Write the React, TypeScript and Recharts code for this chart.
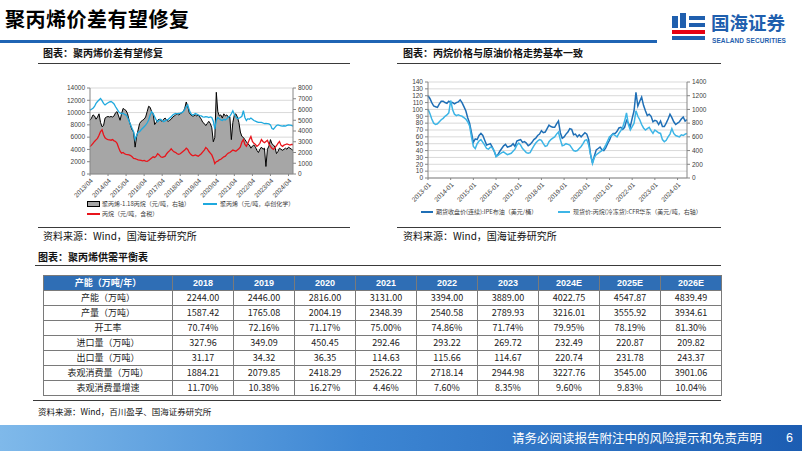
import React from 'react';
import { ComposedChart, Line, Area, XAxis, YAxis, CartesianGrid } from 'recharts';

const CJK = '"Noto Sans CJK SC", "Noto Sans", sans-serif';
const LATIN = '"Liberation Sans", Arial, sans-serif';

// 月份标签
const monthLabels = (y0: number, m0: number, n: number, sep: string) =>
  Array.from({ length: n }, (_, i) => {
    const t = m0 - 1 + i;
    return `${y0 + Math.floor(t / 12)}${sep}${String((t % 12) + 1).padStart(2, '0')}`;
  });

// 图1：2013/04 - 2024/07
const months1 = monthLabels(2013, 4, 136, '/');
// 聚丙烯（元/吨，卓创化学）左轴
const ppPrice = [
  10400, 10550, 10700, 11000, 11500, 11800, 12050, 12300, 11950,
  11500, 11250, 11450, 11600, 11750, 11800, 11650, 11400, 10950, 10550, 10150, 9950,
  9800, 9900, 9700, 9600, 9200, 8600, 8000, 7400, 6900, 5600, 6300, 6800,
  6900, 7200, 7450, 7700, 7950, 8300, 8800, 9600, 10150, 9850, 9300, 8800,
  8500, 8750, 8900, 8700, 8500, 8650, 8800, 8900, 9100, 9300, 9600, 9750,
  9850, 9800, 9850, 9900, 10000, 10150, 10500, 10950, 11250, 10400, 9850, 9600,
  9650, 9850, 9750, 9600, 9500, 9450, 9300, 9250, 9350, 9300, 9200, 9300,
  9200, 8600, 7300, 8700, 9200, 9000, 8800, 8700, 8900, 8800, 9000, 9300,
  9400, 9800, 10300, 9700, 9300, 9000, 9100, 9200, 9400, 10300, 9200, 8700,
  9000, 8900, 9100, 8900, 8700, 8600, 8500, 8400, 8400, 8400, 8300, 8200,
  8250, 8200, 8150, 8000, 7400, 7300, 7600, 7900, 8000, 7900, 7850, 7800,
  7850, 7800, 7900, 8000, 7950, 7900, 7800,
];
// 丙烷（元/吨，含税）左轴
const propanePrice = [
  4450, 4700, 5000, 5300, 5550, 5800, 6300, 6900, 7200,
  6400, 5900, 5700, 5600, 5550, 5500, 5600, 5400, 5300, 5000, 4300, 3700,
  3400, 3500, 3300, 3200, 3150, 3100, 3000, 2800, 2550, 2500, 2400, 2300,
  2250, 2200, 2150, 2200, 2100, 2050, 2200, 2400, 2600, 2800, 2700, 2900,
  3300, 3100, 2800, 2700, 2800, 2900, 3300, 3600, 3800, 4100, 3800, 3600,
  3500, 3300, 3200, 3300, 3500, 3700, 3900, 4200, 4000, 3500, 3200, 3000,
  3000, 3100, 3000, 2900, 3100, 3300, 3600, 3900, 4300, 4100, 3700, 3400,
  3100, 2500, 1700, 2000, 2100, 2300, 2400, 2600, 2800, 2900, 3200, 3400,
  3500, 3700, 3900, 3800, 3700, 3900, 4100, 4400, 5200, 5600, 4800, 4500,
  5000, 5600, 6100, 5300, 5000, 4800, 4500, 4700, 5000, 5600, 5300, 5100,
  5300, 5500, 4900, 4500, 4200, 4000, 4300, 4600, 5000, 5300, 4700, 4500,
  4700, 4800, 4900, 4800, 4700, 4800, 4800,
];
// 聚丙烯-1.18丙烷（元/吨，右轴）
const ppSpread = [
  5000, 5200, 5500, 5400, 5100, 5300, 5600, 4800, 4400,
  4500, 5200, 5300, 5350, 5300, 5350, 5300, 5400, 5700, 5800, 5400, 5000,
  5600, 6100, 6000, 5900, 5600, 5000, 4500, 4100, 3900, 2500, 3500, 4100,
  4700, 4900, 5000, 5100, 5300, 5800, 6300, 6200, 5800, 5600, 4600, 4800,
  5000, 5100, 5000, 4900, 5100, 5200, 5000, 4900, 5000, 5100, 5300, 5400,
  5500, 5600, 5500, 5600, 5700, 5800, 6100, 6700, 6300, 5700, 5500, 5400,
  5400, 5500, 5400, 5500, 5300, 5100, 4800, 4700, 4500, 4700, 4900, 4700,
  4300, 3000, 3400, 7600, 5800, 5400, 5500, 5200, 5600, 5400, 5500, 5300,
  5300, 3200, 4800, 5500, 5600, 5300, 4800, 3900, 3500, 3400, 3200, 3000,
  2800, 2700, 2400, 2600, 2700, 2500, 2200, 2000, 2300, 2500, 2300, 2400,
  700, 2300, 2600, 3200, 2800, 2700, 2500, 1900, 2100, 2400, 2300, 2200,
  2300, 2400, 2300, 2500, 2400, 2300, 2200,
];
const ticksL1 = [0, 2000, 4000, 6000, 8000, 10000, 12000, 14000];
const ticksR1 = [0, 1000, 2000, 3000, 4000, 5000, 6000, 7000, 8000];

// 图2：2013-01 - 2024-06
const months2 = monthLabels(2013, 1, 138, '-');
// IPE布油（美元/桶）
const brent = [
  120, 116, 110, 105, 104, 103, 108, 112, 112, 110, 109, 112,
  110, 110, 108, 110, 111, 114, 110, 104, 98, 88, 80, 66,
  52, 57, 56, 62, 65, 62, 55, 48, 49, 50, 45, 39,
  32, 34, 39, 43, 47, 49, 45, 46, 47, 50, 46, 54,
  55, 56, 52, 53, 51, 47, 49, 52, 56, 58, 62, 64,
  69, 66, 67, 72, 77, 75, 74, 74, 79, 83, 66, 58,
  60, 64, 67, 72, 71, 63, 64, 60, 63, 60, 63, 66,
  64, 56, 34, 22, 32, 41, 43, 45, 41, 40, 44, 50,
  55, 62, 65, 65, 68, 73, 74, 71, 74, 84, 80, 75,
  87, 98, 125, 105, 112, 118, 106, 98, 91, 93, 90, 82,
  84, 83, 78, 83, 75, 75, 80, 86, 93, 88, 82, 78,
  80, 82, 86, 89, 83, 85,
];
// 丙烷(冷冻货):CFR华东（美元/吨，右轴）
const propaneCfr = [
  1000, 940, 860, 800, 780, 790, 820, 850, 870, 900, 920, 950,
  1130, 1000, 930, 910, 920, 910, 900, 880, 860, 820, 760, 600,
  460, 430, 500, 540, 560, 520, 480, 430, 420, 450, 440, 400,
  310, 330, 350, 370, 380, 360, 340, 350, 360, 390, 420, 480,
  510, 480, 430, 400, 370, 360, 370, 420, 470, 510, 540, 560,
  550, 500, 460, 470, 530, 560, 580, 600, 640, 670, 560, 470,
  480, 500, 490, 480, 440, 400, 390, 400, 430, 460, 500, 550,
  560, 480, 340, 210, 300, 340, 360, 380, 400, 430, 480, 540,
  600, 620, 640, 620, 600, 650, 690, 740, 830, 950, 780, 700,
  750, 800, 980, 900, 850, 780, 730, 700, 720, 740, 690, 650,
  700, 680, 660, 650, 560, 530, 550, 600, 640, 720, 650, 620,
  610, 600, 630, 620, 640, 650,
];
const ticksL2 = [0, 10, 20, 30, 40, 50, 60, 70, 80, 90, 100, 110, 120, 130, 140];
const ticksR2 = [0, 200, 400, 600, 800, 1000, 1200, 1400];

// 表：聚丙烯供需平衡表
const tableYears = ['2018', '2019', '2020', '2021', '2022', '2023', '2024E', '2025E', '2026E'];
const rowNames = ['产能（万吨）', '产量（万吨）', '开工率', '进口量（万吨）', '出口量（万吨）', '表观消费量（万吨）', '表观消费量增速'];
const capacity = ['2244.00', '2446.00', '2816.00', '3131.00', '3394.00', '3889.00', '4022.75', '4547.87', '4839.49'];
const output = ['1587.42', '1765.08', '2004.19', '2348.39', '2540.58', '2789.93', '3216.01', '3555.92', '3934.61'];
const utilization = ['70.74%', '72.16%', '71.17%', '75.00%', '74.86%', '71.74%', '79.95%', '78.19%', '81.30%'];
const imports = ['327.96', '349.09', '450.45', '292.46', '293.22', '269.72', '232.49', '220.87', '209.82'];
const exports = ['31.17', '34.32', '36.35', '114.63', '115.66', '114.67', '220.74', '231.78', '243.37'];
const consumption = ['1884.21', '2079.85', '2418.29', '2526.22', '2718.14', '2944.98', '3227.76', '3545.00', '3901.06'];
const growth = ['11.70%', '10.38%', '16.27%', '4.46%', '7.60%', '8.35%', '9.60%', '9.83%', '10.04%'];
const tableValues = [capacity, output, utilization, imports, exports, consumption, growth];

const chart1Data = months1.map((d, i) => ({ date: d, pp: ppPrice[i], propane: propanePrice[i], spread: ppSpread[i] }));
const chart2Data = months2.map((d, i) => ({ date: d, brent: brent[i], propane: propaneCfr[i] }));

const tick = { fontSize: 6.5, fill: '#404040', fontFamily: LATIN };
const axisLine = { stroke: '#868686' };

const abs = (left: number, top: number, extra: React.CSSProperties = {}): React.CSSProperties => ({
  position: 'absolute', left, top, ...extra,
});

function Rule({ left, top, width }: { left: number; top: number; width: number }) {
  return <div style={abs(left, top, { width, height: 0, borderTop: '1.5px solid #3a3a3a' })} />;
}

function Logo() {
  return (
    <div style={abs(672, 13)}>
      <svg width="34" height="28">
        <rect x="0" y="3" width="6" height="12" fill="#1F5FAE" />
        <rect x="8" y="0" width="6" height="15" fill="#1F5FAE" />
        <rect x="17" y="3" width="16" height="4" fill="#1F5FAE" />
        <rect x="17" y="10" width="16" height="4" fill="#1F5FAE" />
        <rect x="0" y="17" width="33" height="4" fill="#E60012" />
        <rect x="0" y="23" width="33" height="4" fill="#1F5FAE" />
      </svg>
      <div style={abs(39, -1, { fontFamily: CJK, fontWeight: 700, fontSize: 18.5, color: '#1F5FAE', lineHeight: '20px', whiteSpace: 'nowrap' })}>国海证券</div>
      <div style={abs(40, 24, { fontFamily: LATIN, fontWeight: 700, fontSize: 6.5, color: '#1F5FAE', lineHeight: '7px', whiteSpace: 'nowrap', letterSpacing: 0.1 })}>SEALAND SECURITIES</div>
    </div>
  );
}

export default function App() {
  const small: React.CSSProperties = { fontFamily: CJK, fontSize: 6, color: '#404040', lineHeight: '8px', whiteSpace: 'nowrap' };
  const panelTitle: React.CSSProperties = { fontFamily: CJK, fontSize: 10, fontWeight: 700, color: '#111', lineHeight: '12px', whiteSpace: 'nowrap' };
  const source: React.CSSProperties = { fontFamily: CJK, fontSize: 10, color: '#111', lineHeight: '12px', whiteSpace: 'nowrap' };
  const cell: React.CSSProperties = { border: '1px solid #7a7a7a', padding: 0, height: 14, lineHeight: '14px', textAlign: 'center', fontSize: 9, whiteSpace: 'nowrap' };

  return (
    <div style={{ position: 'absolute', left: 0, top: 0, width: 802, height: 451, background: '#fff', overflow: 'hidden' }}>
      {/* 标题 */}
      <div style={abs(5, 6, { fontFamily: CJK, fontSize: 20, fontWeight: 700, color: '#000', lineHeight: '26px', letterSpacing: 0.5 })}>聚丙烯价差有望修复</div>
      <div style={abs(0, 40, { width: 657, height: 3, background: '#1F64B4' })} />
      <Logo />

      {/* 左图 */}
      <div style={abs(43, 47, panelTitle)}>图表：聚丙烯价差有望修复</div>
      <Rule left={38} top={63} width={312} />
      <div style={abs(40, 80)}>
        <ComposedChart width={283} height={124} data={chart1Data} margin={{ top: 8, right: 0, bottom: 0, left: 0 }}>
          <CartesianGrid yAxisId="l" vertical={false} stroke="#d9d9d9" />
          <XAxis dataKey="date" scale="point" interval={11} angle={-45} textAnchor="end" height={30}
            tick={tick} tickSize={2} tickLine={axisLine} axisLine={axisLine} />
          <YAxis yAxisId="l" domain={[0, 14000]} ticks={ticksL1} interval={0} width={50} tick={tick} tickSize={3} tickLine={axisLine} axisLine={axisLine} />
          <YAxis yAxisId="r" orientation="right" domain={[0, 8000]} ticks={ticksR1} interval={0} width={30} tick={tick} tickSize={3} tickLine={axisLine} axisLine={axisLine} />
          <Area yAxisId="r" type="linear" dataKey="spread" fill="#a6a6a6" fillOpacity={1} stroke="#000" strokeWidth={1} dot={false} isAnimationActive={false} />
          <Line yAxisId="l" type="linear" dataKey="pp" stroke="#1fa9de" strokeWidth={1.3} dot={false} isAnimationActive={false} />
          <Line yAxisId="l" type="linear" dataKey="propane" stroke="#e8141b" strokeWidth={1.3} dot={false} isAnimationActive={false} />
        </ComposedChart>
      </div>
      <div style={abs(87, 201, { width: 11, height: 4, background: '#a6a6a6', border: '1px solid #000' })} />
      <div style={abs(102, 200, small)}>聚丙烯-1.18丙烷（元/吨，右轴）</div>
      <div style={abs(203, 203, { width: 14, height: 1.5, background: '#1fa9de' })} />
      <div style={abs(220, 200, small)}>聚丙烯（元/吨，卓创化学）</div>
      <div style={abs(87, 213, { width: 13, height: 1.5, background: '#e8141b' })} />
      <div style={abs(102, 210, small)}>丙烷（元/吨，含税）</div>
      <Rule left={38} top={227} width={312} />
      <div style={abs(43, 230, source)}>资料来源：Wind，国海证券研究所</div>

      {/* 右图 */}
      <div style={abs(403, 47, panelTitle)}>图表：丙烷价格与原油价格走势基本一致</div>
      <Rule left={397} top={63} width={324} />
      <div style={abs(388, 74)}>
        <ComposedChart width={334} height={134} data={chart2Data} margin={{ top: 8, right: 0, bottom: 0, left: 0 }}>
          <CartesianGrid yAxisId="l" vertical={false} stroke="#d9d9d9" />
          <XAxis dataKey="date" scale="point" interval={11} angle={-45} textAnchor="end" height={30}
            tick={tick} tickSize={2} tickLine={axisLine} axisLine={axisLine} />
          <YAxis yAxisId="l" domain={[0, 140]} ticks={ticksL2} interval={0} width={40} tick={tick} tickSize={3} tickLine={axisLine} axisLine={axisLine} />
          <YAxis yAxisId="r" orientation="right" domain={[0, 1400]} ticks={ticksR2} interval={0} width={35} tick={tick} tickSize={3} tickLine={axisLine} axisLine={axisLine} />
          <Line yAxisId="l" type="linear" dataKey="brent" stroke="#1f6fb6" strokeWidth={1.5} dot={false} isAnimationActive={false} />
          <Line yAxisId="r" type="linear" dataKey="propane" stroke="#3db5e6" strokeWidth={1.5} dot={false} isAnimationActive={false} />
        </ComposedChart>
      </div>
      <div style={abs(421, 211, { width: 12, height: 2, background: '#1f6fb6' })} />
      <div style={abs(436, 208, small)}>期货收盘价(连续):IPE布油（美元/桶）</div>
      <div style={abs(558, 211, { width: 12, height: 2, background: '#3db5e6' })} />
      <div style={abs(573, 208, small)}>现货价:丙烷(冷冻货):CFR华东（美元/吨，右轴）</div>
      <Rule left={397} top={227} width={324} />
      <div style={abs(403, 230, source)}>资料来源：Wind，国海证券研究所</div>

      {/* 表 */}
      <div style={abs(38, 251, panelTitle)}>图表：聚丙烯供需平衡表</div>
      <Rule left={35} top={265} width={686} />
      <table style={abs(43, 275, { width: 678, borderCollapse: 'collapse', tableLayout: 'fixed', fontFamily: CJK, color: '#222' })}>
        <colgroup>
          <col style={{ width: 129 }} />
          {tableYears.map((y) => <col key={y} style={{ width: 61 }} />)}
        </colgroup>
        <thead>
          <tr>
            <th style={{ ...cell, background: '#2F6EB5', color: '#fff', fontWeight: 700 }}>产能（万吨/年）</th>
            {tableYears.map((y) => (
              <th key={y} style={{ ...cell, background: '#2F6EB5', color: '#fff', fontWeight: 700, fontFamily: LATIN }}>{y}</th>
            ))}
          </tr>
        </thead>
        <tbody>
          {rowNames.map((name, r) => (
            <tr key={name}>
              <td style={cell}>{name}</td>
              {tableValues[r].map((v, c) => <td key={c} style={cell}>{v}</td>)}
            </tr>
          ))}
        </tbody>
      </table>
      <Rule left={33} top={400} width={688} />
      <div style={abs(38, 405, { ...source, fontSize: 8.5 })}>资料来源：Wind，百川盈孚、国海证券研究所</div>

      {/* 底部横幅 */}
      <div style={abs(0, 425, { width: 802, height: 26, background: 'linear-gradient(90deg, #7fb9ea 0%, #3d86d3 45%, #1c5db2 100%)' })} />
      <div style={abs(512, 430, { fontFamily: CJK, fontSize: 12.5, color: '#fff', lineHeight: '16px', whiteSpace: 'nowrap' })}>请务必阅读报告附注中的风险提示和免责声明</div>
      <div style={abs(786, 430, { fontFamily: LATIN, fontSize: 12.5, color: '#fff', lineHeight: '16px' })}>6</div>
    </div>
  );
}
